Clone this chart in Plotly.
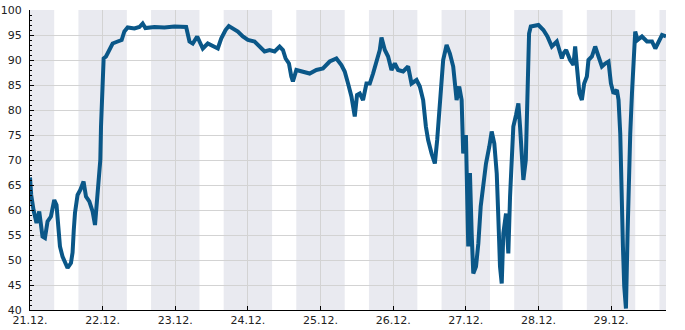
import plotly.graph_objects as go
import pandas as pd

# ---- data ----
times = [
    "2023-12-21 00:00", "2023-12-21 00:24", "2023-12-21 01:10", "2023-12-21 02:09", "2023-12-21 03:03",
    "2023-12-21 04:08", "2023-12-21 04:56", "2023-12-21 05:48", "2023-12-21 06:55", "2023-12-21 08:01",
    "2023-12-21 08:46", "2023-12-21 09:26", "2023-12-21 09:54", "2023-12-21 10:45", "2023-12-21 11:53",
    "2023-12-21 12:25", "2023-12-21 13:32", "2023-12-21 14:04", "2023-12-21 14:28", "2023-12-21 14:52",
    "2023-12-21 15:43", "2023-12-21 16:37", "2023-12-21 17:42", "2023-12-21 18:30", "2023-12-21 19:36",
    "2023-12-21 20:41", "2023-12-21 21:29", "2023-12-21 22:01", "2023-12-21 22:34", "2023-12-21 23:14",
    "2023-12-21 23:28", "2023-12-22 00:00", "2023-12-22 00:20", "2023-12-22 01:07", "2023-12-22 02:13",
    "2023-12-22 03:18", "2023-12-22 04:58", "2023-12-22 06:17", "2023-12-22 07:11", "2023-12-22 08:16",
    "2023-12-22 10:30", "2023-12-22 12:09", "2023-12-22 13:14", "2023-12-22 14:08", "2023-12-22 17:07",
    "2023-12-22 20:25", "2023-12-22 23:44", "2023-12-23 03:36", "2023-12-23 04:42", "2023-12-23 05:47",
    "2023-12-23 07:15", "2023-12-23 08:00", "2023-12-23 09:06", "2023-12-23 10:45", "2023-12-23 12:24",
    "2023-12-23 14:04", "2023-12-23 15:11", "2023-12-23 16:37", "2023-12-23 17:42", "2023-12-23 19:02",
    "2023-12-23 20:41", "2023-12-23 22:20", "2023-12-24 00:00", "2023-12-24 02:13", "2023-12-24 03:52",
    "2023-12-24 05:31", "2023-12-24 07:10", "2023-12-24 08:50", "2023-12-24 10:29", "2023-12-24 11:35",
    "2023-12-24 12:28", "2023-12-24 13:34", "2023-12-24 14:21", "2023-12-24 14:53", "2023-12-24 16:01",
    "2023-12-24 17:40", "2023-12-24 20:25", "2023-12-24 22:38", "2023-12-25 00:49", "2023-12-25 03:02",
    "2023-12-25 05:15", "2023-12-25 06:54", "2023-12-25 08:00", "2023-12-25 09:06", "2023-12-25 10:13",
    "2023-12-25 11:19", "2023-12-25 12:04", "2023-12-25 12:58", "2023-12-25 14:03", "2023-12-25 15:11",
    "2023-12-25 16:17", "2023-12-25 17:22", "2023-12-25 18:30", "2023-12-25 19:35", "2023-12-25 20:09",
    "2023-12-25 21:15", "2023-12-25 22:20", "2023-12-25 23:27", "2023-12-26 00:33", "2023-12-26 01:38",
    "2023-12-26 03:18", "2023-12-26 04:57", "2023-12-26 06:04", "2023-12-26 07:44", "2023-12-26 08:49",
    "2023-12-26 09:55", "2023-12-26 10:49", "2023-12-26 11:34", "2023-12-26 12:42", "2023-12-26 13:47",
    "2023-12-26 14:33", "2023-12-26 15:27", "2023-12-26 16:32", "2023-12-26 17:40", "2023-12-26 18:45",
    "2023-12-26 19:51", "2023-12-26 20:58", "2023-12-26 21:50", "2023-12-26 22:38", "2023-12-26 23:09",
    "2023-12-27 00:03", "2023-12-27 00:49", "2023-12-27 01:23", "2023-12-27 01:57", "2023-12-27 02:29",
    "2023-12-27 03:23", "2023-12-27 04:09", "2023-12-27 04:56", "2023-12-27 05:48", "2023-12-27 06:41",
    "2023-12-27 07:47", "2023-12-27 08:34", "2023-12-27 09:26", "2023-12-27 10:14", "2023-12-27 10:45",
    "2023-12-27 11:19", "2023-12-27 11:53", "2023-12-27 12:25", "2023-12-27 13:18", "2023-12-27 14:04",
    "2023-12-27 14:38", "2023-12-27 15:11", "2023-12-27 15:43", "2023-12-27 16:37", "2023-12-27 17:23",
    "2023-12-27 17:56", "2023-12-27 18:30", "2023-12-27 19:02", "2023-12-27 19:50", "2023-12-27 20:29",
    "2023-12-27 20:55", "2023-12-27 21:29", "2023-12-28 00:00", "2023-12-28 01:39", "2023-12-28 02:59",
    "2023-12-28 04:26", "2023-12-28 06:05", "2023-12-28 07:45", "2023-12-28 08:17", "2023-12-28 09:10",
    "2023-12-28 10:29", "2023-12-28 11:35", "2023-12-28 12:09", "2023-12-28 12:43", "2023-12-28 13:34",
    "2023-12-28 14:22", "2023-12-28 15:08", "2023-12-28 16:01", "2023-12-28 16:33", "2023-12-28 17:41",
    "2023-12-28 18:46", "2023-12-28 19:52", "2023-12-28 20:59", "2023-12-28 22:05", "2023-12-28 23:10",
    "2023-12-28 23:58", "2023-12-29 00:50", "2023-12-29 01:57", "2023-12-29 02:29", "2023-12-29 03:03",
    "2023-12-29 03:23", "2023-12-29 03:56", "2023-12-29 04:22", "2023-12-29 04:56", "2023-12-29 05:28",
    "2023-12-29 05:55", "2023-12-29 06:21", "2023-12-29 06:55", "2023-12-29 07:27", "2023-12-29 08:00",
    "2023-12-29 08:46", "2023-12-29 10:13", "2023-12-29 11:53", "2023-12-29 13:32", "2023-12-29 14:38",
    "2023-12-29 15:44", "2023-12-29 16:51", "2023-12-29 18:10",
]
values = [
    66.5, 63.0, 60.0, 57.4, 59.7,
    54.7, 54.4, 57.7, 58.7, 62.0,
    61.0, 56.7, 52.7, 50.7, 49.0,
    48.4, 49.4, 51.5, 56.0, 59.4,
    63.0, 64.0, 65.7, 62.7, 61.7,
    59.7, 57.0, 60.7, 66.7, 70.0,
    76.7, 84.0, 90.3, 90.7, 92.0,
    93.3, 93.7, 94.0, 95.7, 96.5,
    96.3, 96.6, 97.3, 96.4, 96.6,
    96.5, 96.7, 96.6, 93.7, 93.3,
    94.7, 93.7, 92.3, 93.3, 92.7,
    92.3, 94.3, 96.0, 96.8, 96.3,
    95.7, 94.7, 94.0, 93.7, 92.7,
    91.7, 92.0, 91.7, 92.7, 92.0,
    90.3, 89.3, 86.7, 85.7, 88.0,
    87.7, 87.3, 88.0, 88.3, 89.7,
    90.3, 89.0, 87.7, 85.3, 82.7,
    78.7, 83.0, 83.3, 82.0, 85.3,
    85.3, 87.3, 90.0, 92.0, 94.5,
    92.0, 90.7, 88.0, 89.3, 88.0,
    87.7, 88.7, 85.3, 86.0, 84.7,
    82.0, 76.7, 74.0, 71.3, 69.3,
    74.0, 82.7, 90.0, 93.0, 91.3,
    88.7, 82.0, 84.7, 82.0, 71.3,
    75.0, 52.7, 67.4, 55.3, 47.3,
    48.7, 53.3, 60.7, 65.3, 69.3,
    72.7, 75.7, 73.3, 67.3, 58.7,
    48.7, 45.3, 55.3, 59.3, 51.3,
    62.7, 72.0, 76.7, 79.0, 81.3,
    76.7, 71.3, 66.0, 70.0, 85.3,
    95.3, 96.7, 97.0, 96.0, 94.7,
    92.7, 93.7, 90.3, 91.3, 92.0,
    90.0, 89.0, 92.7, 88.7, 83.3,
    82.0, 85.3, 86.7, 90.0, 90.7,
    92.7, 90.7, 88.7, 89.3, 89.7,
    85.3, 83.3, 84.0, 82.0, 75.3,
    62.0, 52.7, 44.7, 40.3, 55.3,
    67.3, 75.3, 83.3, 92.0, 95.7,
    94.0, 94.7, 93.7, 93.7, 92.3,
    93.7, 95.0, 94.7,
]
x_start = "2023-12-21 00:00"
x_end = "2023-12-29 18:10"
night_start_hour = 16
night_end_hour = 8

fig = go.Figure()

# night bands
t0 = pd.Timestamp(x_start)
t1 = pd.Timestamp(x_end)
day = t0.normalize()
shapes = []
band_color = "#e9eaf0"
while day <= t1:
    ms = day
    me = day + pd.Timedelta(hours=night_end_hour)
    if me > t0 and ms < t1:
        shapes.append(dict(type="rect", xref="x", yref="paper", x0=max(ms, t0), x1=min(me, t1),
                           y0=0, y1=1, fillcolor=band_color, line_width=0, layer="below"))
    ns = day + pd.Timedelta(hours=night_start_hour)
    if ns < t1:
        shapes.append(dict(type="rect", xref="x", yref="paper", x0=ns,
                           x1=min(day + pd.Timedelta(days=1), t1),
                           y0=0, y1=1, fillcolor=band_color, line_width=0, layer="below"))
    day += pd.Timedelta(days=1)

fig.add_trace(go.Scatter(x=pd.to_datetime(times), y=values, mode="lines",
                         line=dict(color="#0a5788", width=4), hoverinfo="x+y"))

font = dict(family="DejaVu Sans", size=11, color="#222222")
fig.update_layout(
    width=685, height=330,
    margin=dict(l=30, r=19, t=10, b=20),
    paper_bgcolor="white", plot_bgcolor="white",
    showlegend=False,
    shapes=shapes,
    font=font,
    xaxis=dict(range=[t0, t1], type="date", dtick=86400000, tick0="2023-12-21",
               tickformat="%d.%m.", ticks="inside", ticklen=4, tickcolor="#000",
               showline=True, linecolor="#000", linewidth=1, automargin=False,
               showgrid=True, gridcolor="#d3d3d3", gridwidth=1, zeroline=False,
               tickfont=font),
    yaxis=dict(range=[40, 100], dtick=5, ticks="inside", ticklen=4, tickcolor="#000",
               showline=True, linecolor="#000", linewidth=1, automargin=False,
               ticklabelstandoff=5,
               showgrid=True, gridcolor="#d3d3d3", gridwidth=1, zeroline=False,
               minor=dict(dtick=1, ticks="inside", ticklen=2, tickcolor="#000", showgrid=False),
               tickfont=font),
)

fig.write_html("out.html")
